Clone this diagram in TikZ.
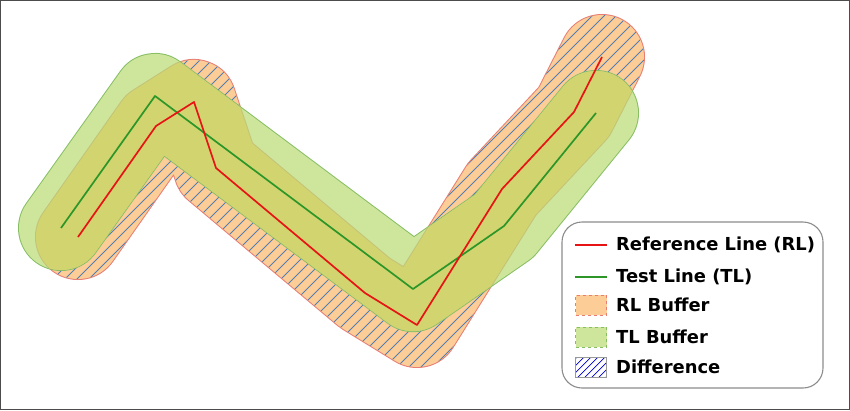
\documentclass[tikz,border=0pt]{standalone}
\usepackage{fontspec}
\setmainfont{DejaVu Sans}
\usetikzlibrary{calc}
\definecolor{rlfill}{RGB}{252,205,150}
\definecolor{rlborder}{RGB}{232,125,115}
\definecolor{hatchc}{RGB}{85,125,175}
\definecolor{tlfill}{RGB}{205,230,155}
\definecolor{ovfill}{RGB}{210,212,112}
\definecolor{tlborder}{RGB}{135,190,100}
\definecolor{mixborder}{RGB}{195,195,120}
\definecolor{rlline}{RGB}{230,20,20}
\definecolor{tlline}{RGB}{45,150,40}
\newcommand\capsule[2]{($(#1)!42pt!-90:(#2)$) -- ($(#2)!42pt!90:(#1)$) -- ($(#2)!42pt!-90:(#1)$) -- ($(#1)!42pt!90:(#2)$) -- cycle (#1) circle[radius=42pt] (#2) circle[radius=42pt]}
\newcommand\rlpath{(r1) -- (r2) -- (r3) -- (r4) -- (r5) -- (r6) -- (r7) -- (r8) -- (r9)}
\newcommand\tlpath{(t1) -- (t2) -- (t3) -- (t4) -- (t5)}
\newcommand\rlunion{\capsule{r1}{r2} \capsule{r2}{r3} \capsule{r3}{r4} \capsule{r4}{r5} \capsule{r5}{r6} \capsule{r6}{r7} \capsule{r7}{r8} \capsule{r8}{r9}}
\newcommand\tlunion{\capsule{t1}{t2} \capsule{t2}{t3} \capsule{t3}{t4} \capsule{t4}{t5}}
\tikzset{
  buf/.style={line width=84pt, line cap=round, line join=round},
  bufedge/.style={line width=86pt, line cap=round, line join=round},
  hatchline/.style={draw=hatchc, line width=0.8pt},
  rlstyle/.style={draw=rlline, line width=1.7pt, line join=round},
  tlstyle/.style={draw=tlline, line width=1.7pt, line join=round},
  legtext/.style={anchor=west, font=\bfseries\fontsize{17.9}{20}\selectfont, inner sep=0pt},
  legbox/.style={draw=black!45, line width=1.1pt, rounded corners=20pt},
}
\begin{document}
\begin{tikzpicture}[x=1pt,y=1pt]
\useasboundingbox (0,0) rectangle (850,-410);
% reference line vertices
\coordinate (r1) at (78,-237);
\coordinate (r2) at (156,-126);
\coordinate (r3) at (194,-102);
\coordinate (r4) at (216,-168);
\coordinate (r5) at (365,-293);
\coordinate (r6) at (417,-325);
\coordinate (r7) at (502,-189);
\coordinate (r8) at (574,-112);
\coordinate (r9) at (602,-57);
% test line vertices
\coordinate (t1) at (61,-228);
\coordinate (t2) at (155,-96);
\coordinate (t3) at (413,-289);
\coordinate (t4) at (504,-226);
\coordinate (t5) at (596,-113);
% RL buffer
\draw[bufedge, rlborder] \rlpath;
\draw[buf, rlfill] \rlpath;
\begin{scope}
  \clip \rlunion;
  \foreach \k in {-460,-448,...,880} \draw[hatchline] (\k,-420) -- ++(440,440);
\end{scope}
% TL buffer
\draw[bufedge, tlborder] \tlpath;
\draw[buf, tlfill] \tlpath;
\begin{scope}
  \clip \tlunion;
  \draw[bufedge, mixborder] \rlpath;
  \draw[buf, ovfill] \rlpath;
\end{scope}
% lines
\draw[tlstyle] \tlpath;
\draw[rlstyle] \rlpath;
% legend
\node[legbox, minimum width=261pt, minimum height=166pt, inner sep=0pt] (legend) at (692.5,-305) {};
\coordinate (a1) at (575,-245); \coordinate (b1) at (607,-245);
\coordinate (a2) at (575,-277); \coordinate (b2) at (607,-277);
\draw[rlline, line width=1.7pt] (a1) -- (b1);
\draw[tlline, line width=1.7pt] (a2) -- (b2);
\node[fill=rlfill, draw=rlborder, dashed, line width=0.8pt, minimum width=31pt, minimum height=20pt, inner sep=0pt] (p3) at (591,-305) {};
\node[fill=tlfill, draw=tlborder, dashed, line width=0.8pt, minimum width=31pt, minimum height=20pt, inner sep=0pt] (p4) at (591,-337) {};
\begin{scope}
  \clip (575.5,-357) rectangle (606.5,-377);
  \foreach \k in {540,547,...,610} \draw[draw=blue!80!black, line width=0.7pt] (\k,-380) -- ++(25,25);
\end{scope}
\node[draw=black!40, line width=0.8pt, minimum width=31pt, minimum height=20pt, inner sep=0pt] (p5) at (591,-367) {};
\node[legtext] (l1) at (616,-245) {Reference Line (RL)};
\node[legtext] (l2) at (616,-277) {Test Line (TL)};
\node[legtext] (l3) at (616,-305) {RL Buffer};
\node[legtext] (l4) at (616,-337) {TL Buffer};
\node[legtext] (l5) at (616,-367) {Difference};
% frame
\draw[black!70, line width=1pt] (0.5,-0.5) rectangle (849.5,-409.5);
\end{tikzpicture}
\end{document}
